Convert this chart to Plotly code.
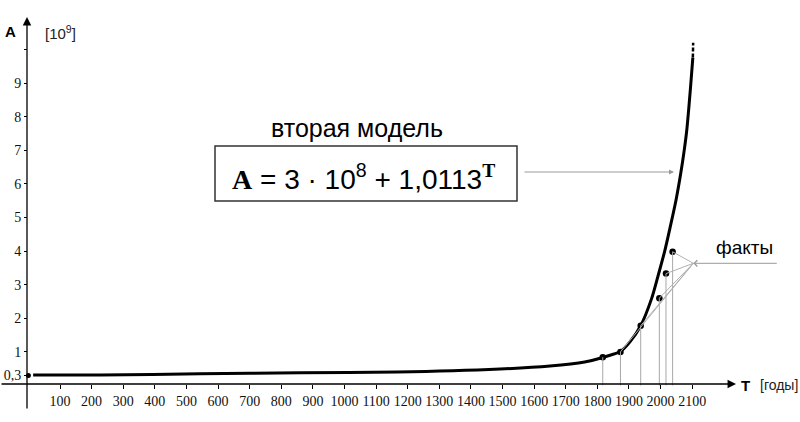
import plotly.graph_objects as go

# ---- data ----
curve_T = [15, 227, 543, 859, 1166, 1492, 1650, 1760, 1800, 1840, 1874, 1903, 1937,
           1972, 1993, 2013, 2030, 2049, 2064, 2075, 2083, 2095, 2102]
curve_A = [0.31, 0.31, 0.35, 0.38, 0.40, 0.49, 0.58, 0.70, 0.79, 0.90, 1.02, 1.30, 1.78,
           2.60, 3.30, 4.00, 4.70, 5.53, 6.33, 7.02, 7.62, 8.91, 9.76]
tip_T = [2102, 2103]
tip_A = [9.76, 10.2]
start_T = [0]
start_A = [0.3]

facts_T = [1817, 1873, 1937, 1996, 2017, 2038]
facts_A = [0.84, 1.00, 1.78, 2.60, 3.33, 3.98]

x_ticks = list(range(100, 2101, 100))
x_labels = [str(v) for v in x_ticks]
y_ticks = [0.3, 1, 2, 3, 4, 5, 6, 7, 8, 9, 10]
y_labels = ["0,3", "1", "2", "3", "4", "5", "6", "7", "8", "9", ""]

# ---- pixel <-> data helpers (layout only) ----
W, H = 800, 422
def px2T(px):
    return (px - 28.4) / 0.3161
def py2A(py):
    return (385.5 - py) / 33.6
def PX(px):
    return px / W
def PY(py):
    return 1 - py / H

fig = go.Figure()

fig.add_trace(go.Scatter(x=curve_T, y=curve_A, mode="lines",
                         line=dict(color="black", width=3, shape="spline", smoothing=0.8),
                         hoverinfo="skip"))
fig.add_trace(go.Scatter(x=tip_T, y=tip_A, mode="lines",
                         line=dict(color="black", width=2.5, dash="4px,2px"),
                         hoverinfo="skip"))
fig.add_trace(go.Scatter(x=start_T, y=start_A, mode="markers",
                         marker=dict(color="black", size=5), hoverinfo="skip"))
fig.add_trace(go.Scatter(x=facts_T, y=facts_A, mode="markers",
                         marker=dict(color="black", size=6.5), hoverinfo="skip"))

shapes = []
for t, a in zip(facts_T, facts_A):
    shapes.append(dict(type="line", xref="x", yref="y", x0=t, y0=0, x1=t, y1=a,
                       line=dict(color="#a8a8a8", width=1)))
cx, cy = px2T(693.3), py2A(263.3)
for t, a in zip(facts_T[1:], facts_A[1:]):
    shapes.append(dict(type="line", xref="x", yref="y", x0=cx, y0=cy, x1=t, y1=a,
                       line=dict(color="#b0b0b0", width=1)))
shapes.append(dict(type="rect", xref="paper", yref="paper",
                   x0=PX(215), x1=PX(517), y0=PY(201), y1=PY(146),
                   line=dict(color="#333333", width=1.5)))

def label(px, py, text, size, color="black", family="Liberation Sans"):
    return dict(xref="paper", yref="paper", x=PX(px), y=PY(py), text=text, showarrow=False,
                xanchor="center", yanchor="middle",
                font=dict(family=family, size=size, color=color))

annotations = [
    dict(xref="paper", yref="paper", x=PX(736), y=PY(384), ax=-736, ay=0,
         showarrow=True, arrowhead=2, arrowsize=1.3, arrowwidth=1.3, arrowcolor="black", text=""),
    dict(xref="paper", yref="paper", x=PX(27), y=PY(17), ax=0, ay=393,
         showarrow=True, arrowhead=2, arrowsize=1.3, arrowwidth=1.3, arrowcolor="black", text=""),
    label(10.5, 31.5, "<b>A</b>", 15),
    label(60, 32, "[10<sup>9</sup>]", 15, "#222"),
    label(745, 385, "<b>T</b>", 15),
    label(779, 385, "[годы]", 14, "#222"),
    label(357, 128, "вторая модель", 25),
    label(363, 177,
          '<span style="font-family:\'Liberation Serif\'"><b>A</b></span> = 3 · 10<sup>8</sup> + 1,0113'
          '<sup><span style="font-family:\'Liberation Serif\'"><b>T</b></span></sup>', 28),
    dict(xref="paper", yref="paper", x=PX(674), y=PY(172), ax=-151, ay=0, text="",
         showarrow=True, arrowhead=2, arrowsize=1, arrowwidth=1, arrowcolor="#999999"),
    label(744, 248, "факты", 19),
    dict(xref="paper", yref="paper", x=PX(693.3), y=PY(263.3), ax=85, ay=0, text="",
         showarrow=True, arrowhead=4, arrowsize=1.2, arrowwidth=1, arrowcolor="#999999"),
]

fig.update_layout(
    width=W, height=H, margin=dict(l=0, r=0, t=0, b=0),
    paper_bgcolor="white", plot_bgcolor="white", showlegend=False,
    shapes=shapes, annotations=annotations,
    xaxis=dict(range=[px2T(0), px2T(W)], domain=[0, 1], anchor="free", position=PY(384),
               showline=False, showgrid=False, zeroline=False, fixedrange=True,
               ticks="outside", ticklen=4, tickwidth=1, tickcolor="black",
               tickvals=x_ticks, ticktext=x_labels,
               tickfont=dict(family="Liberation Serif", size=14, color="#111")),
    yaxis=dict(range=[py2A(H), py2A(0)], domain=[0, 1], anchor="free", position=PX(27),
               showline=False, showgrid=False, zeroline=False, fixedrange=True,
               ticks="outside", ticklen=3, tickwidth=1, tickcolor="black",
               tickvals=y_ticks, ticktext=y_labels,
               tickfont=dict(family="Liberation Serif", size=14, color="#111")),
)

fig.write_html("out.html", config={"displayModeBar": False},
               post_script="document.body.style.margin='0px';")
